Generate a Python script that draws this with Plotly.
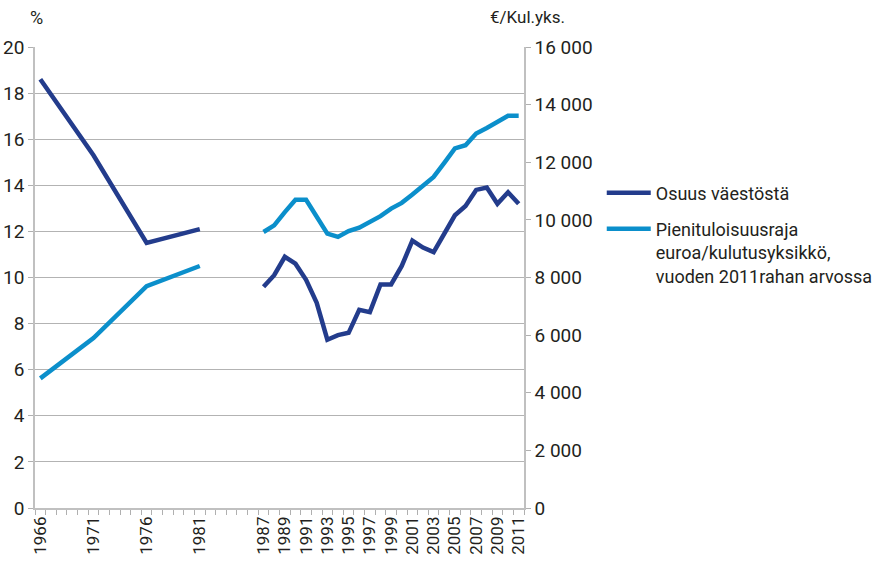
import plotly.graph_objects as go

years = [1966, 1971, 1976, 1981, 1984,
         1987, 1988, 1989, 1990, 1991, 1992, 1993, 1994, 1995, 1996, 1997, 1998,
         1999, 2000, 2001, 2002, 2003, 2004, 2005, 2006, 2007, 2008, 2009, 2010, 2011]
osuus = [18.6, 15.3, 11.5, 12.1, None,
         9.6, 10.1, 10.9, 10.6, 9.9, 8.9, 7.3, 7.5, 7.6, 8.6, 8.5, 9.7,
         9.7, 10.5, 11.6, 11.3, 11.1, 11.9, 12.7, 13.1, 13.8, 13.9, 13.2, 13.7, 13.2]
raja = [4500, 5900, 7700, 8400, None,
        9580, 9810, 10270, 10700, 10700, 10100, 9520, 9410, 9610, 9730, 9930, 10130,
        10390, 10590, 10880, 11200, 11490, 11980, 12480, 12590, 13000, 13190, 13400, 13610, 13610]
tick_years = [1966, 1971, 1976, 1981, 1987, 1989, 1991, 1993, 1995, 1997, 1999,
              2001, 2003, 2005, 2007, 2009, 2011]
left_ticks = list(range(0, 21, 2))
right_ticks = list(range(0, 16001, 2000))
right_labels = ["0" if v == 0 else f"{v // 1000} {v % 1000:03d}" for v in right_ticks]

FONT = "Roboto, Liberation Sans, sans-serif"
TXT = "#231f20"
DARK = "#233c8c"
LIGHT = "#0b8fcb"

fig = go.Figure()
fig.add_trace(go.Scatter(x=years, y=osuus, mode="lines", name="Osuus väestöstä",
                         legend="legend",
                         line=dict(color=DARK, width=4.5), connectgaps=False))
fig.add_trace(go.Scatter(x=years, y=raja, mode="lines", yaxis="y2",
                         legend="legend2",
                         name="Pienituloisuusraja<br>euroa/kulutusyksikkö,<br>vuoden 2011rahan arvossa",
                         line=dict(color=LIGHT, width=4.5), connectgaps=False))

leg_common = dict(xanchor="left", font=dict(size=18, color=TXT),
                  bgcolor="rgba(0,0,0,0)", itemwidth=44, valign="top")

fig.update_layout(
    width=881, height=561,
    margin=dict(l=35, r=357, t=47, b=53, autoexpand=False),
    paper_bgcolor="white", plot_bgcolor="white",
    font=dict(family=FONT, size=18, color=TXT),
    showlegend=True,
    legend=dict(x=1.159, y=0.683, yanchor="middle", **leg_common),
    legend2=dict(x=1.159, y=0.645, yanchor="top", **leg_common),
    xaxis=dict(range=[1965.5, 2011.5], tickvals=tick_years, automargin=False,
               ticktext=[str(y) for y in tick_years], tickangle=-90,
               ticks="", showgrid=False, zeroline=False,
               showline=True, linecolor="#c0c0c0", linewidth=1.5,
               tickfont=dict(size=17, color=TXT),
               minor=dict(tick0=1965.5, dtick=1, ticks="outside", ticklen=5,
                          tickcolor="#b0b0b0", tickwidth=1, showgrid=False)),
    yaxis=dict(range=[0, 20], tickvals=left_ticks, ticks="outside", ticklen=5,
               automargin=False,
               tickcolor="#b0b0b0", showgrid=True, gridcolor="#b3b3b3", gridwidth=1,
               zeroline=False, showline=True, linecolor="#c0c0c0", linewidth=1.5,
               tickfont=dict(size=19, color=TXT)),
    yaxis2=dict(range=[0, 16000], overlaying="y", side="right", automargin=False,
                tickvals=right_ticks, ticktext=right_labels,
                ticks="outside", ticklen=5, tickcolor="#b0b0b0",
                showgrid=False, zeroline=False, showline=True,
                linecolor="#c0c0c0", linewidth=1.5,
                tickfont=dict(size=19, color=TXT)),
    annotations=[
        dict(text="%", xref="paper", yref="paper", x=-0.015, y=1.065,
             xanchor="left", yanchor="middle", showarrow=False,
             font=dict(size=18, color=TXT)),
        dict(text="€/Kul.yks.", xref="paper", yref="paper", x=1.088, y=1.065,
             xanchor="right", yanchor="middle", showarrow=False,
             font=dict(size=17, color=TXT)),
    ],
)

fig.write_html("out.html", config={"displayModeBar": False},
               post_script="document.body.style.margin='0';document.body.style.padding='0';")
